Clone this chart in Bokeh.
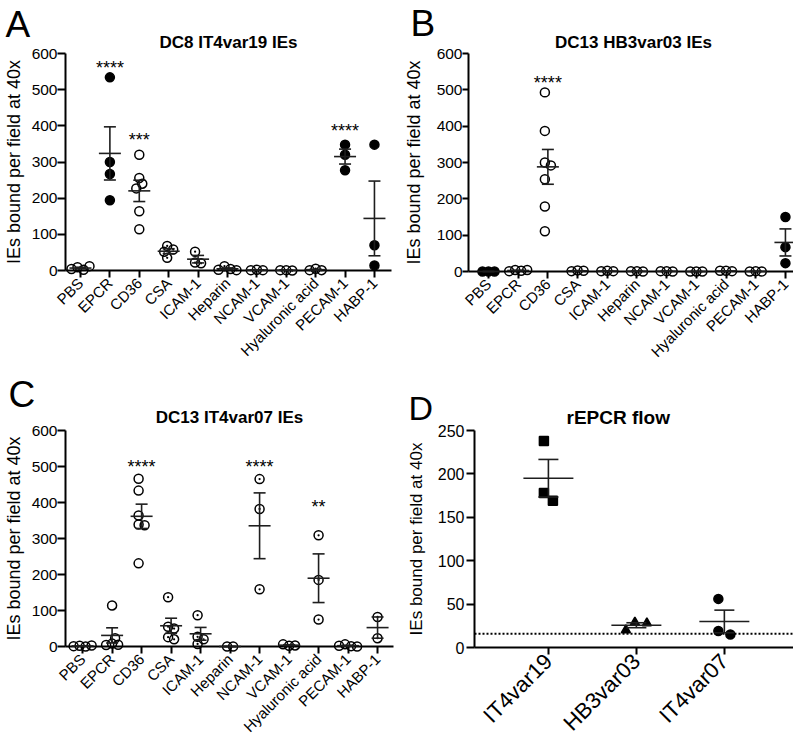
import numpy as np
from bokeh.plotting import figure
from bokeh.models import Range1d, FixedTicker, Span, Title
from bokeh.layouts import row, column
from bokeh.embed import file_html
from bokeh.resources import INLINE
from bokeh.core.properties import value

FONT = "Liberation Sans"

# ---------------- data ----------------
categories = ["PBS", "EPCR", "CD36", "CSA", "ICAM-1", "Heparin", "NCAM-1",
              "VCAM-1", "Hyaluronic acid", "PECAM-1", "HABP-1"]

# Panel A: DC8 IT4var19 IEs
a_values = [
    [9, 2, 4, 12],                 # PBS
    [534, 300, 267, 194],          # EPCR
    [320, 256, 240, 227, 164, 114],# CD36
    [68, 58, 52, 35],              # CSA
    [52, 22, 20],                  # ICAM-1
    [12, 4, 2, 1],                 # Heparin
    [2, 1, 1],                     # NCAM-1
    [1, 0, 1],                     # VCAM-1
    [5, 1, 1],                     # Hyaluronic acid
    [348, 320, 277],               # PECAM-1
    [348, 70, 14],                 # HABP-1
]
a_stars = [("EPCR", 565, "****"), ("CD36", 367, "***"), ("PECAM-1", 390, "****")]

# Panel B: DC13 HB3var03 IEs
b_values = [
    [0, 0, 0],
    [4, 2, 1, 4],
    [493, 387, 300, 292, 254, 179, 111],
    [3, 2, 1],
    [2, 1, 1],
    [1, 0, 1],
    [1, 0, 1],
    [0, 0, 0],
    [2, 1, 2],
    [1, 0, 0],
    [150, 67, 23],
]
b_stars = [("CD36", 524, "****")]

# Panel C: DC13 IT4var07 IEs
c_values = [
    [2, 0, 1, 3],
    [114, 8, 23, 5, 4],
    [466, 433, 364, 339, 337, 231],
    [137, 55, 50, 26, 20],
    [87, 27, 20, 7],
    [0, 0],
    [465, 382, 159],
    [2, 3, 6],
    [309, 185, 75],
    [6, 1, 2, 0],
    [82, 23],
]
c_stars = [("CD36", 505, "****"), ("NCAM-1", 505, "****"), ("Hyaluronic acid", 394, "**")]

# Panel D: rEPCR flow
d_categories = ["IT4var19", "HB3var03", "IT4var07"]
d_values = [
    [238, 178, 169],
    [29, 28, 20],
    [56, 19, 15],
]
d_threshold = 15.8

# ---------------- styles ----------------
STYLES = {
    "open": ("circle", None),
    "filled": ("circle", "black"),
    "dot": ("circle_dot", None),
    "square": ("square", "black"),
    "triangle": ("triangle", "black"),
}
a_styles = ["open", "filled", "open", "dot", "dot", "dot", "dot", "dot", "dot", "filled", "filled"]
b_styles = ["filled", "open", "open", "open", "open", "open", "open", "open", "open", "open", "filled"]
c_styles = ["open", "open", "open", "dot", "dot", "open", "dot", "open", "dot", "open", "dot"]
d_styles = ["square", "triangle", "filled"]


def beeswarm(vals, px_x, px_y, min_dist, step):
    placed = []
    for v in vals:
        k = 0
        while True:
            m = (k + 1) // 2
            c = 0.0 if k == 0 else step * m * (1 if k % 2 == 1 else -1)
            if all(np.hypot(c - px, (v - pv) * px_y) >= min_dist for px, pv in placed):
                break
            k += 1
        placed.append((c, v))
    offs = np.array([c for c, _ in placed], dtype=float)
    offs -= (offs.max() + offs.min()) / 2.0
    return offs / px_x


def make_panel(cfg):
    cats = cfg["cats"]
    fw, fh = cfg["fw"], cfg["fh"]
    x0, x1 = cfg["xr"]
    y0, y1 = cfg["yr"]
    p = figure(frame_width=fw, frame_height=fh,
               min_border_left=cfg["left"], min_border_right=cfg["right"],
               min_border_top=cfg["top"], min_border_bottom=cfg["bottom"],
               x_range=Range1d(x0, x1), y_range=Range1d(y0, y1),
               title_location=None,
               output_backend="svg", toolbar_location=None, tools="")
    p.outline_line_color = None
    p.grid.visible = False
    p.background_fill_color = "white"
    p.border_fill_color = "white"

    px_x = fw / (x1 - x0)
    px_y = fh / (y1 - y0)

    # x axis
    xa = p.xaxis[0]
    xa.ticker = FixedTicker(ticks=list(range(len(cats))))
    xa.major_label_overrides = {i: c for i, c in enumerate(cats)}
    xa.major_label_orientation = np.pi / 4
    xa.axis_line_width = 2
    xa.major_tick_line_width = 2
    xa.major_tick_out = 7
    xa.major_tick_in = 0
    xa.minor_tick_out = 0
    xa.minor_tick_in = 0
    xa.major_label_standoff = cfg["xstandoff"]
    xa.major_label_text_font = FONT
    xa.major_label_text_font_size = cfg["xfont"]
    xa.major_label_text_color = "black"

    # y axis
    ya = p.yaxis[0]
    ya.ticker = FixedTicker(ticks=cfg["yticks"])
    ya.axis_line_width = 2
    ya.major_tick_line_width = 2
    ya.major_tick_out = cfg["ytick"]
    ya.major_tick_in = 0
    ya.minor_tick_out = 0
    ya.minor_tick_in = 0
    ya.major_label_standoff = cfg["ystandoff"]
    ya.major_label_text_font = FONT
    ya.major_label_text_font_size = cfg["yfont"]
    ya.major_label_text_color = "black"
    ya.axis_label = "IEs bound per field at 40x"
    ya.axis_label_text_font = FONT
    ya.axis_label_text_font_style = "normal"
    ya.axis_label_text_font_size = cfg["ylfont"]
    ya.axis_label_text_color = "black"
    ya.axis_label_standoff = cfg["ylstandoff"]

    # points + mean / SEM
    ms = cfg["msize"]
    for i, vals in enumerate(cfg["values"]):
        vals = np.array(vals, dtype=float)
        offs = beeswarm(vals, px_x, px_y, cfg["min_dist"], cfg["step"])
        n = len(vals)
        mean = vals.mean()
        sem = vals.std(ddof=1) / np.sqrt(n) if n > 1 else 0.0
        hw = cfg["mean_hw"] / px_x
        cw = cfg["cap_hw"] / px_x
        xs0 = [i - hw, i, i - cw, i - cw]
        xs1 = [i + hw, i, i + cw, i + cw]
        ys0 = [mean, mean - sem, mean + sem, mean - sem]
        ys1 = [mean, mean + sem, mean + sem, mean - sem]
        marker, fill = STYLES[cfg["styles"][i]]
        r1 = p.scatter(x=list(i + offs), y=list(vals), marker=marker, size=ms,
                       fill_color=fill, line_color="black", line_width=1.5)
        r2 = p.segment(x0=xs0, y0=ys0, x1=xs1, y1=ys1, line_color="#1e1e1e", line_width=1.6)
        r1.level = "overlay"
        r2.level = "overlay"

    # significance stars
    if cfg["stars"]:
        sx = [cats.index(c) for c, _, _ in cfg["stars"]]
        sy = [y for _, y, _ in cfg["stars"]]
        st = [t for _, _, t in cfg["stars"]]
        p.text(x=sx, y=sy, text=st, text_align="center", text_baseline="middle",
               text_font=value(FONT), text_font_size="18px", text_color="black",
               y_offset=2)

    if cfg.get("threshold") is not None:
        p.add_layout(Span(location=cfg["threshold"], dimension="width",
                          line_dash="2 2", line_width=2, line_color="black"))

    # chart title (closest to the frame) and panel letter (outer)
    p.add_layout(Title(text=cfg["title"], align=cfg["talign"], offset=cfg["toffset"],
                       standoff=cfg["tstand"], text_font=FONT, text_font_style="bold",
                       text_font_size=cfg["tfont"], text_color="black"), "above")
    p.add_layout(Title(text=cfg["letter"], align="left", offset=cfg["letter_x"] - cfg["left"],
                       standoff=cfg["lstand"], text_font=FONT, text_font_style="normal",
                       text_font_size=cfg["lfont"], text_color="black"), "above")
    return p


common = dict(cats=categories, yr=(0, 600), yticks=list(range(0, 601, 100)),
              xfont="15px", yfont="15.5px", ylfont="18px", tfont="17px", lfont="37px",
              msize=9, min_dist=6, step=3, mean_hw=11, cap_hw=6, xstandoff=3,
              ytick=8, ystandoff=0, ylstandoff=5,
              talign="center", toffset=0, tstand=3, lstand=-30)

pa = make_panel(dict(common, values=a_values, styles=a_styles, stars=a_stars,
                     title="DC8 IT4var19 IEs", letter="A",
                     left=61, right=9, top=52, bottom=101, fw=326, fh=217, xr=(-0.51, 10.58),
                     letter_x=1))
pb = make_panel(dict(common, values=b_values, styles=b_styles, stars=b_stars,
                     title="DC13 HB3var03 IEs", letter="B",
                     left=64, right=2, top=53, bottom=99, fw=330, fh=218, xr=(-0.673, 10.44),
                     letter_x=6, lstand=-28, ytick=6, ylstandoff=10))
pc = make_panel(dict(common, values=c_values, styles=c_styles, stars=c_stars,
                     title="DC13 IT4var07 IEs", letter="C",
                     left=59, right=9, top=60, bottom=97, fw=328, fh=216, xr=(-0.58, 10.54),
                     letter_x=2, tstand=8, lstand=-27))
pd_ = make_panel(dict(common, cats=d_categories, values=d_values, styles=d_styles, stars=[],
                      yr=(0, 250), yticks=list(range(0, 251, 50)),
                      xfont="22px", yfont="16px", ylfont="17px", tfont="19px", lfont="34px",
                      mean_hw=25, cap_hw=10, min_dist=10, step=3, xstandoff=3,
                      ytick=8, ystandoff=2, ylstandoff=9,
                      title="rEPCR flow", letter="D", threshold=d_threshold,
                      talign="left", toffset=92, tstand=6, lstand=-50,
                      left=72, right=2, top=59, bottom=97, fw=322, fh=217, xr=(-0.84, 2.82),
                      letter_x=6))

layout = column(row(pa, pb), row(pc, pd_))
open("out.html", "w").write(file_html(layout, INLINE))
